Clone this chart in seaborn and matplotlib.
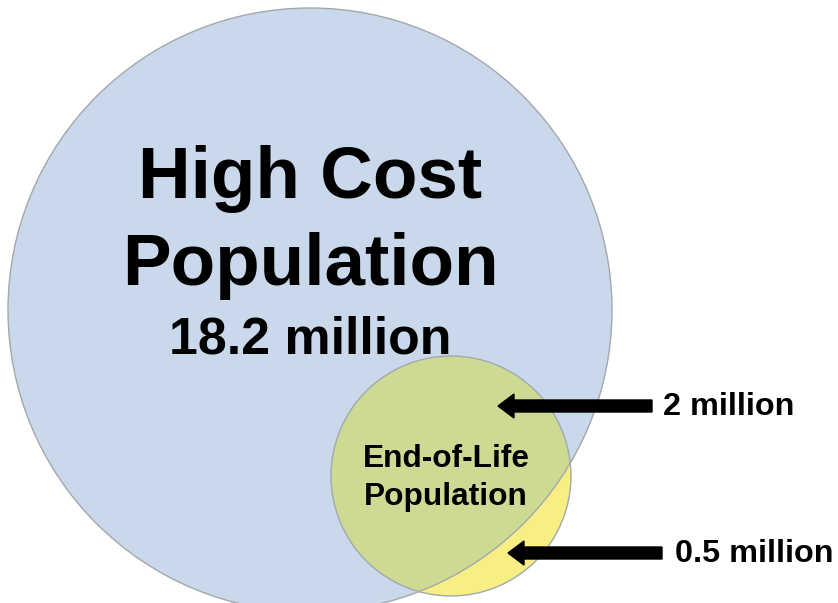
import matplotlib
matplotlib.use("Agg")
import matplotlib.pyplot as plt
import seaborn as sns
from matplotlib.patches import Circle

# Data
group_names = ["High Cost\nPopulation", "End-of-Life\nPopulation"]
group_totals = ["18.2 million", ""]
split_labels = ["2 million", "0.5 million"]

sns.set_theme(style="white")
plt.rcParams['font.family'] = ['Liberation Sans', 'DejaVu Sans']
plt.rcParams['text.color'] = 'black'

W, H = 838, 603
fig = plt.figure(figsize=(W / 100, H / 100), dpi=100)
ax = fig.add_axes([0, 0, 1, 1])
ax.set_xlim(0, W)
ax.set_ylim(H, 0)
ax.set_aspect("equal")
ax.axis("off")

big_c, big_r = (310, 310), 302
small_c, small_r = (451, 476), 120
edge = "#a3a8ad"

big = Circle(big_c, big_r, facecolor="#c9d8ea", edgecolor="none", zorder=1)
ax.add_patch(big)
small = Circle(small_c, small_r, facecolor="#f7ef84", edgecolor="none", zorder=2)
ax.add_patch(small)
# overlap region
overlap = Circle(small_c, small_r, facecolor="#cdda93", edgecolor="none", zorder=3)
ax.add_patch(overlap)
overlap.set_clip_path(big)
# outlines
ax.add_patch(Circle(big_c, big_r, facecolor="none", edgecolor=edge, lw=1, zorder=4))
ax.add_patch(Circle(small_c, small_r, facecolor="none", edgecolor=edge, lw=1, zorder=4))

# big circle labels
line1, line2 = group_names[0].split("\n")
ax.text(310, 198, line1, fontsize=52.5, fontweight="bold", color="black", ha="center", va="baseline", zorder=5)
ax.text(310, 285, line2, fontsize=52.5, fontweight="bold", color="black", ha="center", va="baseline", zorder=5)
ax.text(310, 353, group_totals[0], fontsize=37.4, fontweight="bold", color="black", ha="center", va="baseline", zorder=5)

# small circle labels
s1, s2 = group_names[1].split("\n")
ax.text(446, 467, s1, fontsize=22.8, fontweight="bold", color="black", ha="center", va="baseline", zorder=5)
ax.text(446, 505, s2, fontsize=22.8, fontweight="bold", color="black", ha="center", va="baseline", zorder=5)

# arrows + split labels
arrows = [(652, 498, 406, 663, 415), (662, 508, 553, 675, 562)]
for (tail, head, y, tx, ty), lab in zip(arrows, split_labels):
    ax.arrow(tail, y, head - tail, 0, width=12, head_width=24, head_length=16,
             length_includes_head=True, facecolor="black", edgecolor="black", zorder=6)
    ax.text(tx, ty, lab, fontsize=23.3, fontweight="bold", color="black", ha="left", va="baseline", zorder=6)

fig.savefig("out.png", dpi=100)
